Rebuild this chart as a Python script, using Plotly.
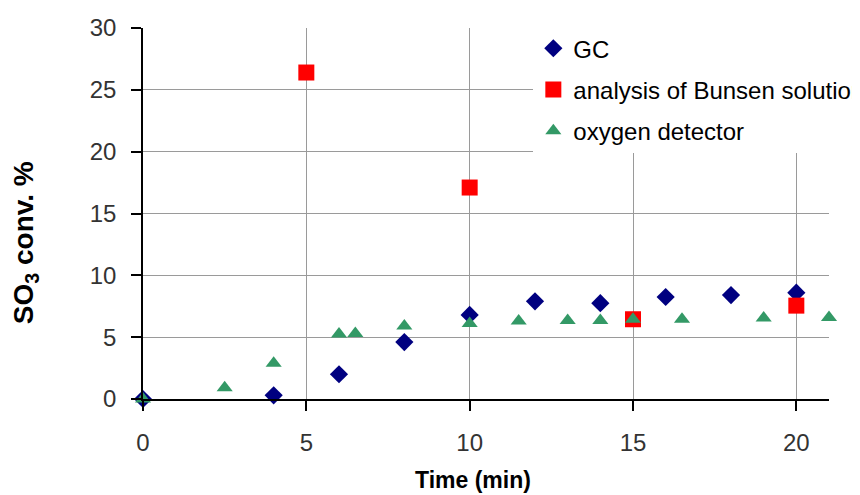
import plotly.graph_objects as go

# Data
gc_time = [0, 4, 6, 8, 10, 12, 14, 16, 18, 20]
gc_conv = [0.0, 0.3, 2.0, 4.6, 6.8, 7.9, 7.75, 8.25, 8.4, 8.6]

bunsen_time = [5, 10, 15, 20]
bunsen_conv = [26.4, 17.1, 6.45, 7.55]

oxy_time = [0, 2.5, 4, 6, 6.5, 8, 10, 11.5, 13, 14, 15, 16.5, 19, 21]
oxy_conv = [0.0, 0.9, 2.9, 5.25, 5.3, 5.9, 6.1, 6.3, 6.35, 6.35, 6.45, 6.45, 6.55, 6.6]

x_ticks = [0, 5, 10, 15, 20]
y_ticks = [0, 5, 10, 15, 20, 25, 30]

FONT = "Liberation Sans, Arial, sans-serif"

fig = go.Figure()
fig.add_trace(go.Scatter(
    x=gc_time, y=gc_conv, mode="markers", name="GC",
    marker=dict(symbol="diamond", size=14, color="#000080", line=dict(width=0)),
    cliponaxis=False, legendgroup="a"))
fig.add_trace(go.Scatter(
    x=bunsen_time, y=bunsen_conv, mode="markers", name="analysis of Bunsen solution",
    marker=dict(symbol="square", size=16, color="#FF0000", line=dict(width=0)),
    cliponaxis=False, legendgroup="b"))
fig.add_trace(go.Scatter(
    x=oxy_time, y=oxy_conv, mode="markers", name="oxygen detector",
    marker=dict(symbol="triangle-up", size=14, color="#339966", line=dict(width=0)),
    cliponaxis=False, legendgroup="c"))

axis_common = dict(
    showline=True, linecolor="black", linewidth=1.5,
    showgrid=True, gridcolor="#9a9a9a", gridwidth=1,
    zeroline=False, ticks="outside", ticklen=10, tickwidth=1.5, tickcolor="black",
    tickfont=dict(family=FONT, size=24, color="#333333"),
)

fig.update_xaxes(range=[0, 21], tickvals=x_ticks, ticktext=[str(v) for v in x_ticks],
                 ticklabelstandoff=11, **axis_common)
fig.update_yaxes(range=[0, 30], tickvals=y_ticks, ticktext=[str(v) for v in y_ticks],
                 ticklabelstandoff=10, **axis_common)

fig.add_annotation(text="<b>SO<sub>3</sub> conv. %</b>", xref="paper", yref="paper",
                   x=-0.172, y=0.42, xanchor="center", yanchor="middle", textangle=-90,
                   showarrow=False, font=dict(family=FONT, size=28, color="black"))
fig.add_annotation(text="<b>Time (min)</b>", xref="paper", yref="paper",
                   x=0.481, y=-0.218, xanchor="center", yanchor="middle",
                   showarrow=False, font=dict(family=FONT, size=23, color="black"))

fig.update_layout(
    width=860, height=495,
    margin=dict(l=135, r=39, t=20, b=104, autoexpand=False),
    paper_bgcolor="white", plot_bgcolor="white",
    showlegend=True,
    legend=dict(x=0.569, y=1.005, xanchor="left", yanchor="top",
                bgcolor="white", borderwidth=0, tracegroupgap=7,
                font=dict(family=FONT, size=24, color="black"),
                traceorder="grouped"),
    font=dict(family=FONT),
)

fig.write_html("out.html")
